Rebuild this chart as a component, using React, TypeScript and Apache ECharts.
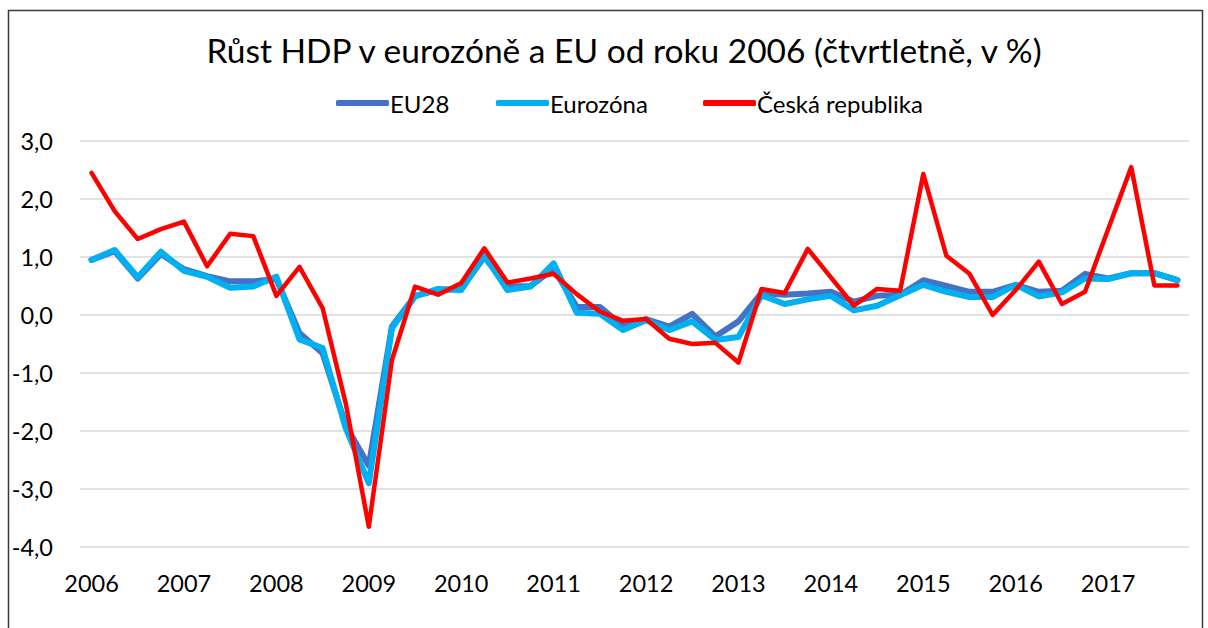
import React, { useEffect, useRef } from "react";
import * as echarts from "echarts";

const years = ["2006", "2007", "2008", "2009", "2010", "2011", "2012", "2013", "2014", "2015", "2016", "2017"];
const quarters = ["Q1", "Q2", "Q3", "Q4"];
const categories = years.flatMap((y) => quarters.map((q) => `${y} ${q}`));

const eu28 = [0.95, 1.1, 0.63, 1.05, 0.79, 0.67, 0.58, 0.58, 0.62, -0.31, -0.66, -1.9, -2.6, -0.2, 0.33, 0.43, 0.45, 1.0, 0.49, 0.5, 0.8, 0.14, 0.14, -0.19, -0.07, -0.2, 0.02, -0.37, -0.11, 0.38, 0.35, 0.37, 0.4, 0.23, 0.33, 0.35, 0.6, 0.5, 0.4, 0.4, 0.52, 0.4, 0.42, 0.71, 0.63, 0.72, 0.72, 0.6];
const eurozona = [0.95, 1.12, 0.65, 1.09, 0.76, 0.66, 0.47, 0.49, 0.66, -0.42, -0.57, -1.95, -2.9, -0.23, 0.32, 0.45, 0.43, 1.03, 0.43, 0.49, 0.89, 0.04, 0.02, -0.26, -0.09, -0.26, -0.11, -0.43, -0.38, 0.34, 0.19, 0.27, 0.33, 0.08, 0.16, 0.34, 0.52, 0.4, 0.31, 0.31, 0.52, 0.32, 0.39, 0.63, 0.62, 0.72, 0.72, 0.6];
const cesko = [2.45, 1.79, 1.31, 1.48, 1.61, 0.84, 1.4, 1.36, 0.33, 0.83, 0.12, -1.52, -3.65, -0.78, 0.49, 0.35, 0.55, 1.15, 0.56, 0.63, 0.71, 0.36, 0.06, -0.1, -0.07, -0.41, -0.5, -0.48, -0.82, 0.45, 0.38, 1.14, 0.65, 0.16, 0.45, 0.42, 2.43, 1.02, 0.71, 0.0, 0.43, 0.92, 0.19, 0.4, 1.48, 2.55, 0.51, 0.51];

const titleText = "Růst HDP v eurozóně a EU od roku 2006 (čtvrtletně, v %)";
const seriesNames = ["EU28", "Eurozóna", "Česká republika"];
const colors = ["#4472C4", "#00B0F0", "#FF0000"];

const FONT = "Lato, 'Noto Sans', sans-serif";

export default function App() {
  const ref = useRef<HTMLDivElement>(null);
  useEffect(() => {
    if (!ref.current) return;
    const chart = echarts.init(ref.current, undefined, { renderer: "svg" });
    const legendLefts = [331, 491, 698];
    const option = {
      animation: false,
      backgroundColor: "#ffffff",
      textStyle: { fontFamily: FONT },
      graphic: [
        {
          type: "rect",
          shape: { x: 8.5, y: 10.5, width: 1194, height: 700 },
          style: { fill: "none", stroke: "#3a3a3a", lineWidth: 1.5 },
          silent: true,
          z: -10,
        },
        {
          type: "text",
          x: 624,
          y: 50,
          style: {
            text: titleText,
            fontFamily: FONT,
            fontSize: 33.5,
            fill: "#000",
            textAlign: "center",
            textVerticalAlign: "middle",
          },
        },
      ],
      legend: seriesNames.map((n, i) => ({
        data: [n],
        left: legendLefts[i],
        top: 86,
        icon: "roundRect",
        itemWidth: 53,
        itemHeight: 6,
        textStyle: { fontSize: 24, color: "#000", fontFamily: FONT, padding: [0, 0, 0, -4] },
        selectedMode: false,
      })),
      grid: { left: 80, right: 19, top: 141, bottom: 81, containLabel: false },
      xAxis: {
        type: "category",
        data: categories,
        boundaryGap: true,
        axisLine: { show: false },
        axisTick: { show: false },
        axisLabel: {
          interval: 3,
          margin: 24,
          fontSize: 23.5,
          color: "#000",
          fontFamily: FONT,
          formatter: (v: string) => v.split(" ")[0],
        },
        splitLine: { show: false },
      },
      yAxis: {
        type: "value",
        min: -4,
        max: 3,
        interval: 1,
        axisLine: { show: false },
        axisTick: { show: false },
        axisLabel: {
          margin: 27,
          fontSize: 23.5,
          color: "#000",
          fontFamily: FONT,
          formatter: (v: number) => v.toFixed(1).replace(".", ","),
        },
        splitLine: { lineStyle: { color: "#d9d9d9", width: 1.5 } },
      },
      series: [eu28, eurozona, cesko].map((d, i) => ({
        name: seriesNames[i],
        type: "line",
        data: d,
        showSymbol: false,
        symbol: "none",
        color: colors[i],
        lineStyle: { color: colors[i], width: i === 2 ? 4.5 : 6, cap: "round", join: "round" },
        z: 2 + i,
      })),
    };
    chart.setOption(option);
    return () => chart.dispose();
  }, []);
  return <div ref={ref} style={{ position: "fixed", left: 0, top: 0, width: 1208, height: 628 }} />;
}
